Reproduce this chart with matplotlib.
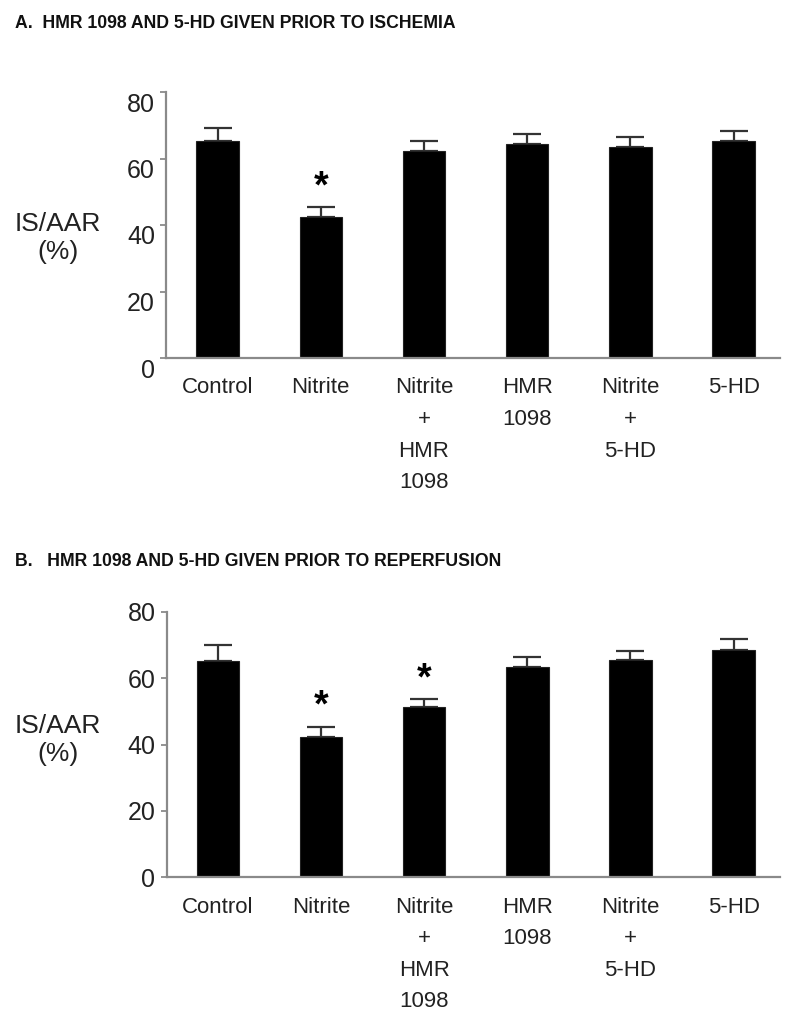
import matplotlib
matplotlib.use("Agg")
import matplotlib.pyplot as plt
import matplotlib.transforms as mtransforms

# ---- data ----
categories = ["Control", "Nitrite", "Nitrite\n+\nHMR\n1098", "HMR\n1098", "Nitrite\n+\n5-HD", "5-HD"]
yticks = [0, 20, 40, 60, 80]

means_a = [65.3, 42.3, 62.3, 64.3, 63.5, 65.3]
sem_a = [4.0, 3.0, 3.0, 3.0, 3.0, 3.0]
star_a = [1]

means_b = [65.2, 42.3, 51.2, 63.3, 65.4, 68.4]
sem_b = [4.7, 3.1, 2.4, 3.1, 2.9, 3.3]
star_b = [1, 2]

title_a = "A.  HMR 1098 AND 5-HD GIVEN PRIOR TO ISCHEMIA"
title_b = "B.   HMR 1098 AND 5-HD GIVEN PRIOR TO REPERFUSION"
ylabel = "IS/AAR\n(%)"

REG = ["Liberation Sans", "DejaVu Sans"]

W, H = 800, 1025
fig = plt.figure(figsize=(W / 100, H / 100), dpi=100)

def make_panel(rect, means, sems, stars, title, title_y, ylab_y, label_shift):
    ax = fig.add_axes(rect)
    x = list(range(len(means)))
    ax.bar(x, means, width=0.41, color="black", edgecolor="#222222", linewidth=0.8, zorder=2)
    ax.errorbar(x, means, yerr=[[0] * len(sems), sems], fmt="none", ecolor="#333333",
                elinewidth=1.6, capsize=9.8, capthick=1.6, zorder=1)
    for i in stars:
        ax.text(i, means[i] + sems[i] + 5.9, "*", ha="center", va="center",
                fontsize=27, fontweight="bold", family=REG)
    ax.set_xlim(-0.5, 5.45)
    ax.set_ylim(0, 80)
    ax.set_yticks(yticks)
    ax.set_yticklabels([str(v) for v in yticks], family=REG, fontsize=18, color="#222222")
    ax.set_xticks(x)
    ax.set_xticklabels(categories, family=REG, fontsize=16, linespacing=1.66,
                       color="#222222", va="top")
    ax.tick_params(axis="x", length=0, pad=14)
    ax.tick_params(axis="y", length=4, width=1.2, color="#808080", pad=4, direction="out")
    for s in ["top", "right"]:
        ax.spines[s].set_visible(False)
    for s in ["left", "bottom"]:
        ax.spines[s].set_color("#8a8a8a")
        ax.spines[s].set_linewidth(1.6)
    if label_shift:
        off = mtransforms.ScaledTranslation(0, -label_shift / 100, fig.dpi_scale_trans)
        for lab in ax.get_yticklabels():
            lab.set_transform(lab.get_transform() + off)
    fig.text(15 / W, 1 - title_y / H, title, ha="left", va="center", fontsize=12.7,
             fontweight="bold", family=REG, color="#111111")
    fig.text(58 / W, 1 - ylab_y / H, ylabel, ha="center", va="center", fontsize=19,
             family=REG, linespacing=1.2, color="#222222")
    return ax

make_panel([166 / W, 1 - 358 / H, 614 / W, 266 / H], means_a, sem_a, star_a,
           title_a, 24, 238, 10)
make_panel([166.5 / W, 1 - 877.3 / H, 613.5 / W, 265.6 / H], means_b, sem_b, star_b,
           title_b, 561, 740, 0)

fig.savefig("out.png", dpi=100)
